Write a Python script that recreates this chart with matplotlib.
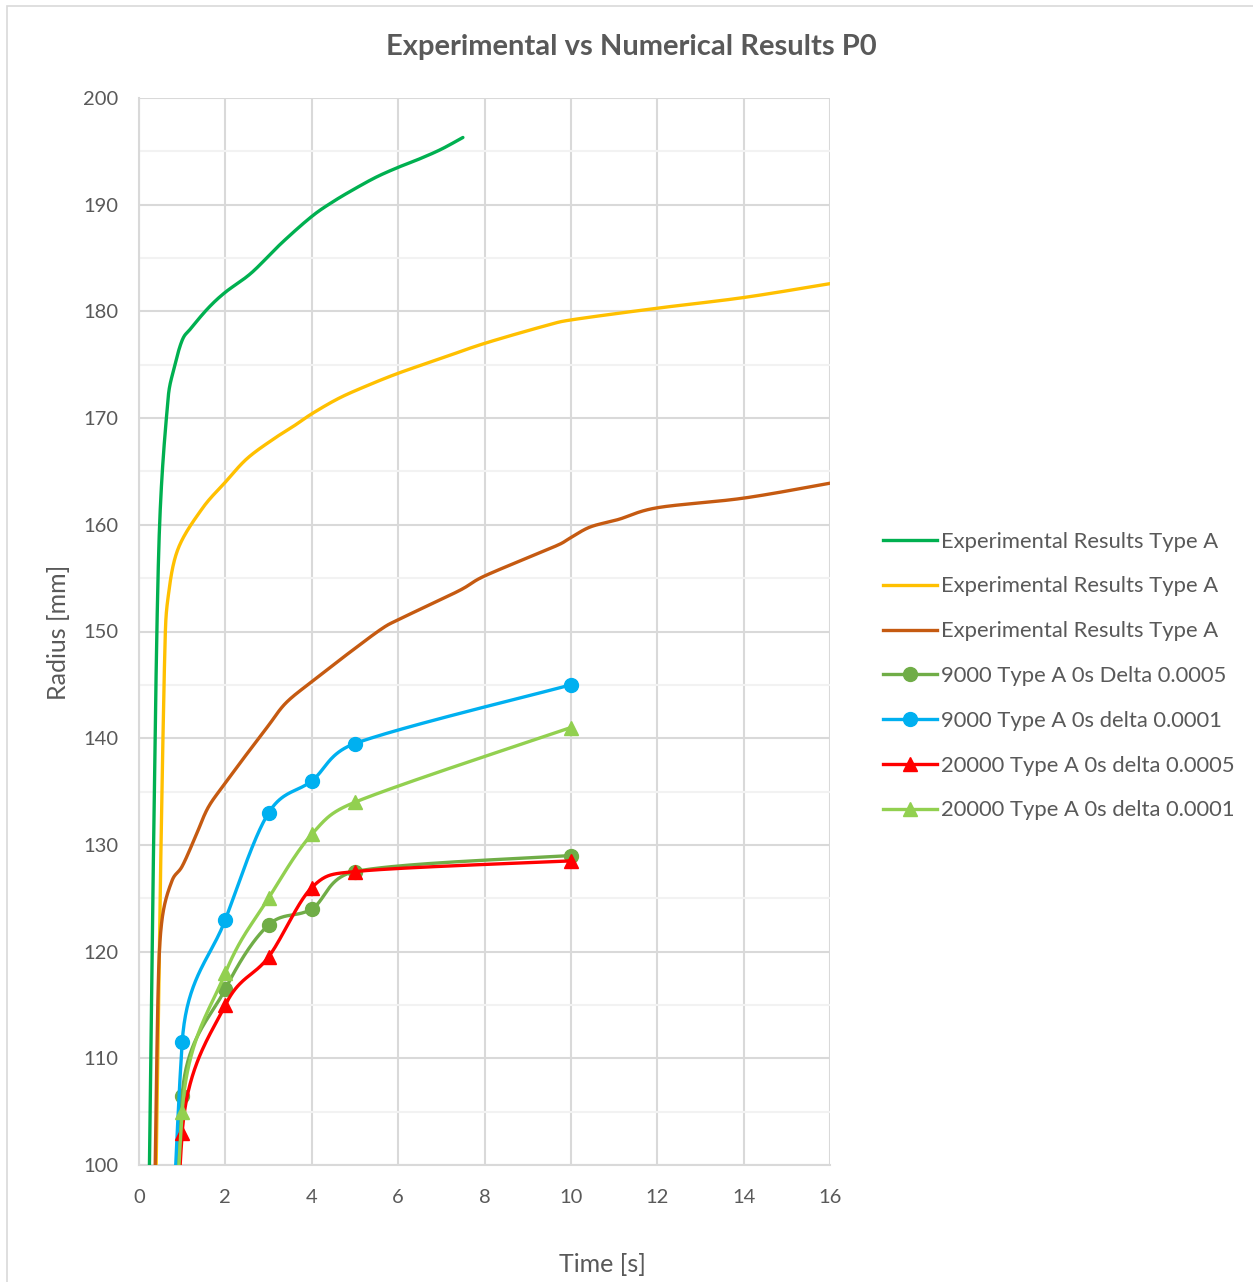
import matplotlib
matplotlib.use("Agg")
import matplotlib.pyplot as plt
import matplotlib.patches as mpatches
import numpy as np

# ── Series data ────────────────────────────────────────────────────────────────
exp1_t = [0.21, 0.32, 0.46, 0.67, 0.8, 1.0, 1.2, 1.6, 2.0, 2.6, 3.3, 4.0,
          4.5, 5.0, 5.5, 6.0, 6.5, 7.0, 7.5]
exp1_r = [90.0, 125.0, 158.0, 171.7, 174.5, 177.3, 178.4, 180.3, 181.8, 183.6,
          186.4, 188.9, 190.3, 191.5, 192.6, 193.5, 194.3, 195.2, 196.3]

exp2_t = [0.36, 0.49, 0.6, 0.67, 0.9, 1.46, 2.0, 2.5, 3.1, 3.6, 4.0, 4.6, 5.2,
          6.0, 7.0, 8.0, 9.45, 10.0, 12.0, 14.0, 16.0]
exp2_r = [90.0, 125.2, 148.5, 153.1, 157.7, 161.5, 164.0, 166.2, 168.0, 169.3,
          170.4, 171.8, 172.9, 174.2, 175.6, 177.0, 178.7, 179.2, 180.3, 181.3,
          182.6]

exp3_t = [0.34, 0.44, 0.53, 0.76, 1.0, 1.3, 1.6, 2.0, 2.4, 2.7, 3.0, 3.4, 4.0,
          4.8, 5.6, 6.0, 7.4, 8.0, 9.7, 10.0, 10.45, 11.1, 12.0, 14.0, 16.0]
exp3_r = [90.0, 115.9, 122.9, 126.6, 128.0, 130.7, 133.5, 135.8, 138.0, 139.6,
          141.2, 143.3, 145.3, 147.8, 150.2, 151.1, 153.8, 155.2, 158.1, 158.8,
          159.8, 160.5, 161.6, 162.5, 163.9]

num_t = [0, 1, 2, 3, 4, 5, 10]
n9000_d5 = [0, 106.5, 116.5, 122.5, 124.0, 127.5, 129.0]
n9000_d1 = [0, 111.5, 123.0, 133.0, 136.0, 139.5, 145.0]
n20000_d5 = [0, 103.0, 115.0, 119.5, 126.0, 127.5, 128.5]
n20000_d1 = [0, 105.0, 118.0, 125.0, 131.0, 134.0, 141.0]

labels = [
    "Experimental Results Type A",
    "Experimental Results Type A",
    "Experimental Results Type A",
    "9000 Type A 0s Delta 0.0005",
    "9000 Type A 0s delta 0.0001",
    "20000 Type A 0s delta 0.0005",
    "20000 Type A 0s delta 0.0001",
]
x_ticks = list(range(0, 17, 2))
y_ticks = list(range(100, 201, 10))

# ── Style ──────────────────────────────────────────────────────────────────────
TEXT_CLR = "#595959"
GRID_CLR = "#D9D9D9"
MINOR_CLR = "#F2F2F2"
FONT = ["Lato", "DejaVu Sans"]

plt.rcParams["font.family"] = FONT

W, H = 1253, 1282
AX_L, AX_R, AX_T, AX_B = 139, 830, 98, 1165
PX_X = (AX_R - AX_L) / 16.0      # pixels per second
PX_Y = (AX_B - AX_T) / 100.0     # pixels per mm


def smooth(xs, ys, steps=40):
    """Catmull-Rom Bezier smoothing in screen space, with the handles
    capped at half the segment so uneven spacing does not overshoot."""
    p = np.column_stack([np.asarray(xs) * PX_X, np.asarray(ys) * PX_Y])
    n = len(p)
    tang = np.zeros_like(p)
    for i in range(n):
        a = p[i - 1] if i > 0 else p[i]
        b = p[i + 1] if i < n - 1 else p[i]
        tang[i] = (b - a) / 6.0
    out = [p[0]]
    for i in range(n - 1):
        d = np.linalg.norm(p[i + 1] - p[i])
        h1, h2 = tang[i], tang[i + 1]
        l1, l2 = np.linalg.norm(h1), np.linalg.norm(h2)
        if l1 > d / 2:
            h1 = h1 * (d / 2) / l1
        if l2 > d / 2:
            h2 = h2 * (d / 2) / l2
        c1 = p[i] + h1
        c2 = p[i + 1] - h2
        t = np.linspace(0, 1, steps)[1:, None]
        seg = ((1 - t) ** 3) * p[i] + 3 * ((1 - t) ** 2) * t * c1 \
            + 3 * (1 - t) * t ** 2 * c2 + t ** 3 * p[i + 1]
        out.extend(seg)
    out = np.array(out)
    return out[:, 0] / PX_X, out[:, 1] / PX_Y


fig = plt.figure(figsize=(W / 100, H / 100), dpi=100, facecolor="white")
ax = fig.add_axes([AX_L / W, 1 - AX_B / H, (AX_R - AX_L) / W, (AX_B - AX_T) / H])

# chart border
fig.add_artist(mpatches.Rectangle((7 / W, -0.01), 1.2, 1 - 6 / H + 0.01,
                                  transform=fig.transFigure, fill=False,
                                  edgecolor=GRID_CLR, linewidth=1.2))

LW = 2.4
series = [
    (exp1_t, exp1_r, "#00B050", None),
    (exp2_t, exp2_r, "#FFC000", None),
    (exp3_t, exp3_r, "#C55A11", None),
    (num_t, n9000_d5, "#70AD47", "o"),
    (num_t, n9000_d1, "#00B0F0", "o"),
    (num_t, n20000_d5, "#FF0000", "^"),
    (num_t, n20000_d1, "#92D050", "^"),
]
handles = []
for k, (xs, ys, clr, mk) in enumerate(series):
    sx, sy = smooth(xs, ys)
    ax.plot(sx, sy, color=clr, linewidth=LW, solid_capstyle="round", zorder=3 + k)
    if mk:
        ax.plot(xs, ys, linestyle="none", marker=mk, markersize=10,
                color=clr, zorder=3 + k)
    handles.append(plt.Line2D([], [], color=clr, linewidth=LW, marker=mk,
                              markersize=10, label=labels[k]))

ax.set_xlim(0, 16)
ax.set_ylim(100, 200)
ax.set_xticks(x_ticks)
ax.set_yticks(y_ticks)
ax.set_yticks(np.arange(105, 200, 10), minor=True)
ax.grid(True, which="major", color=GRID_CLR, linewidth=1.5)
ax.grid(True, which="minor", axis="y", color=MINOR_CLR, linewidth=1.5)
ax.set_axisbelow(True)
for name, sp in ax.spines.items():
    sp.set_visible(name in ("left", "bottom"))
    sp.set_color(GRID_CLR)
    sp.set_linewidth(1.5)
ax.tick_params(which="both", length=0, labelsize=14.5, colors=TEXT_CLR)
ax.tick_params(axis="y", pad=15)
ax.tick_params(axis="x", pad=17)
for lab in ax.get_xticklabels() + ax.get_yticklabels():
    lab.set_color(TEXT_CLR)

fig.text(631 / W, 1 - 47 / H, "Experimental vs Numerical Results P0",
         ha="center", va="center", fontsize=21, fontweight="bold", color=TEXT_CLR)
fig.text(58 / W, 1 - 632 / H, "Radius [mm]", rotation=90, ha="center",
         va="center", fontsize=18, color=TEXT_CLR)
fig.text(602 / W, 1 - 1265 / H, "Time [s]", ha="center", va="center",
         fontsize=18, color=TEXT_CLR)

leg = fig.legend(handles=handles, loc="center left",
                 bbox_to_anchor=(883 / W, 1 - 676 / H), frameon=False,
                 fontsize=15.8, labelcolor=TEXT_CLR, handlelength=2.46,
                 handletextpad=0.18, labelspacing=1.13, numpoints=1,
                 borderaxespad=0, borderpad=0)

fig.savefig("out.png", dpi=100, facecolor="white")
